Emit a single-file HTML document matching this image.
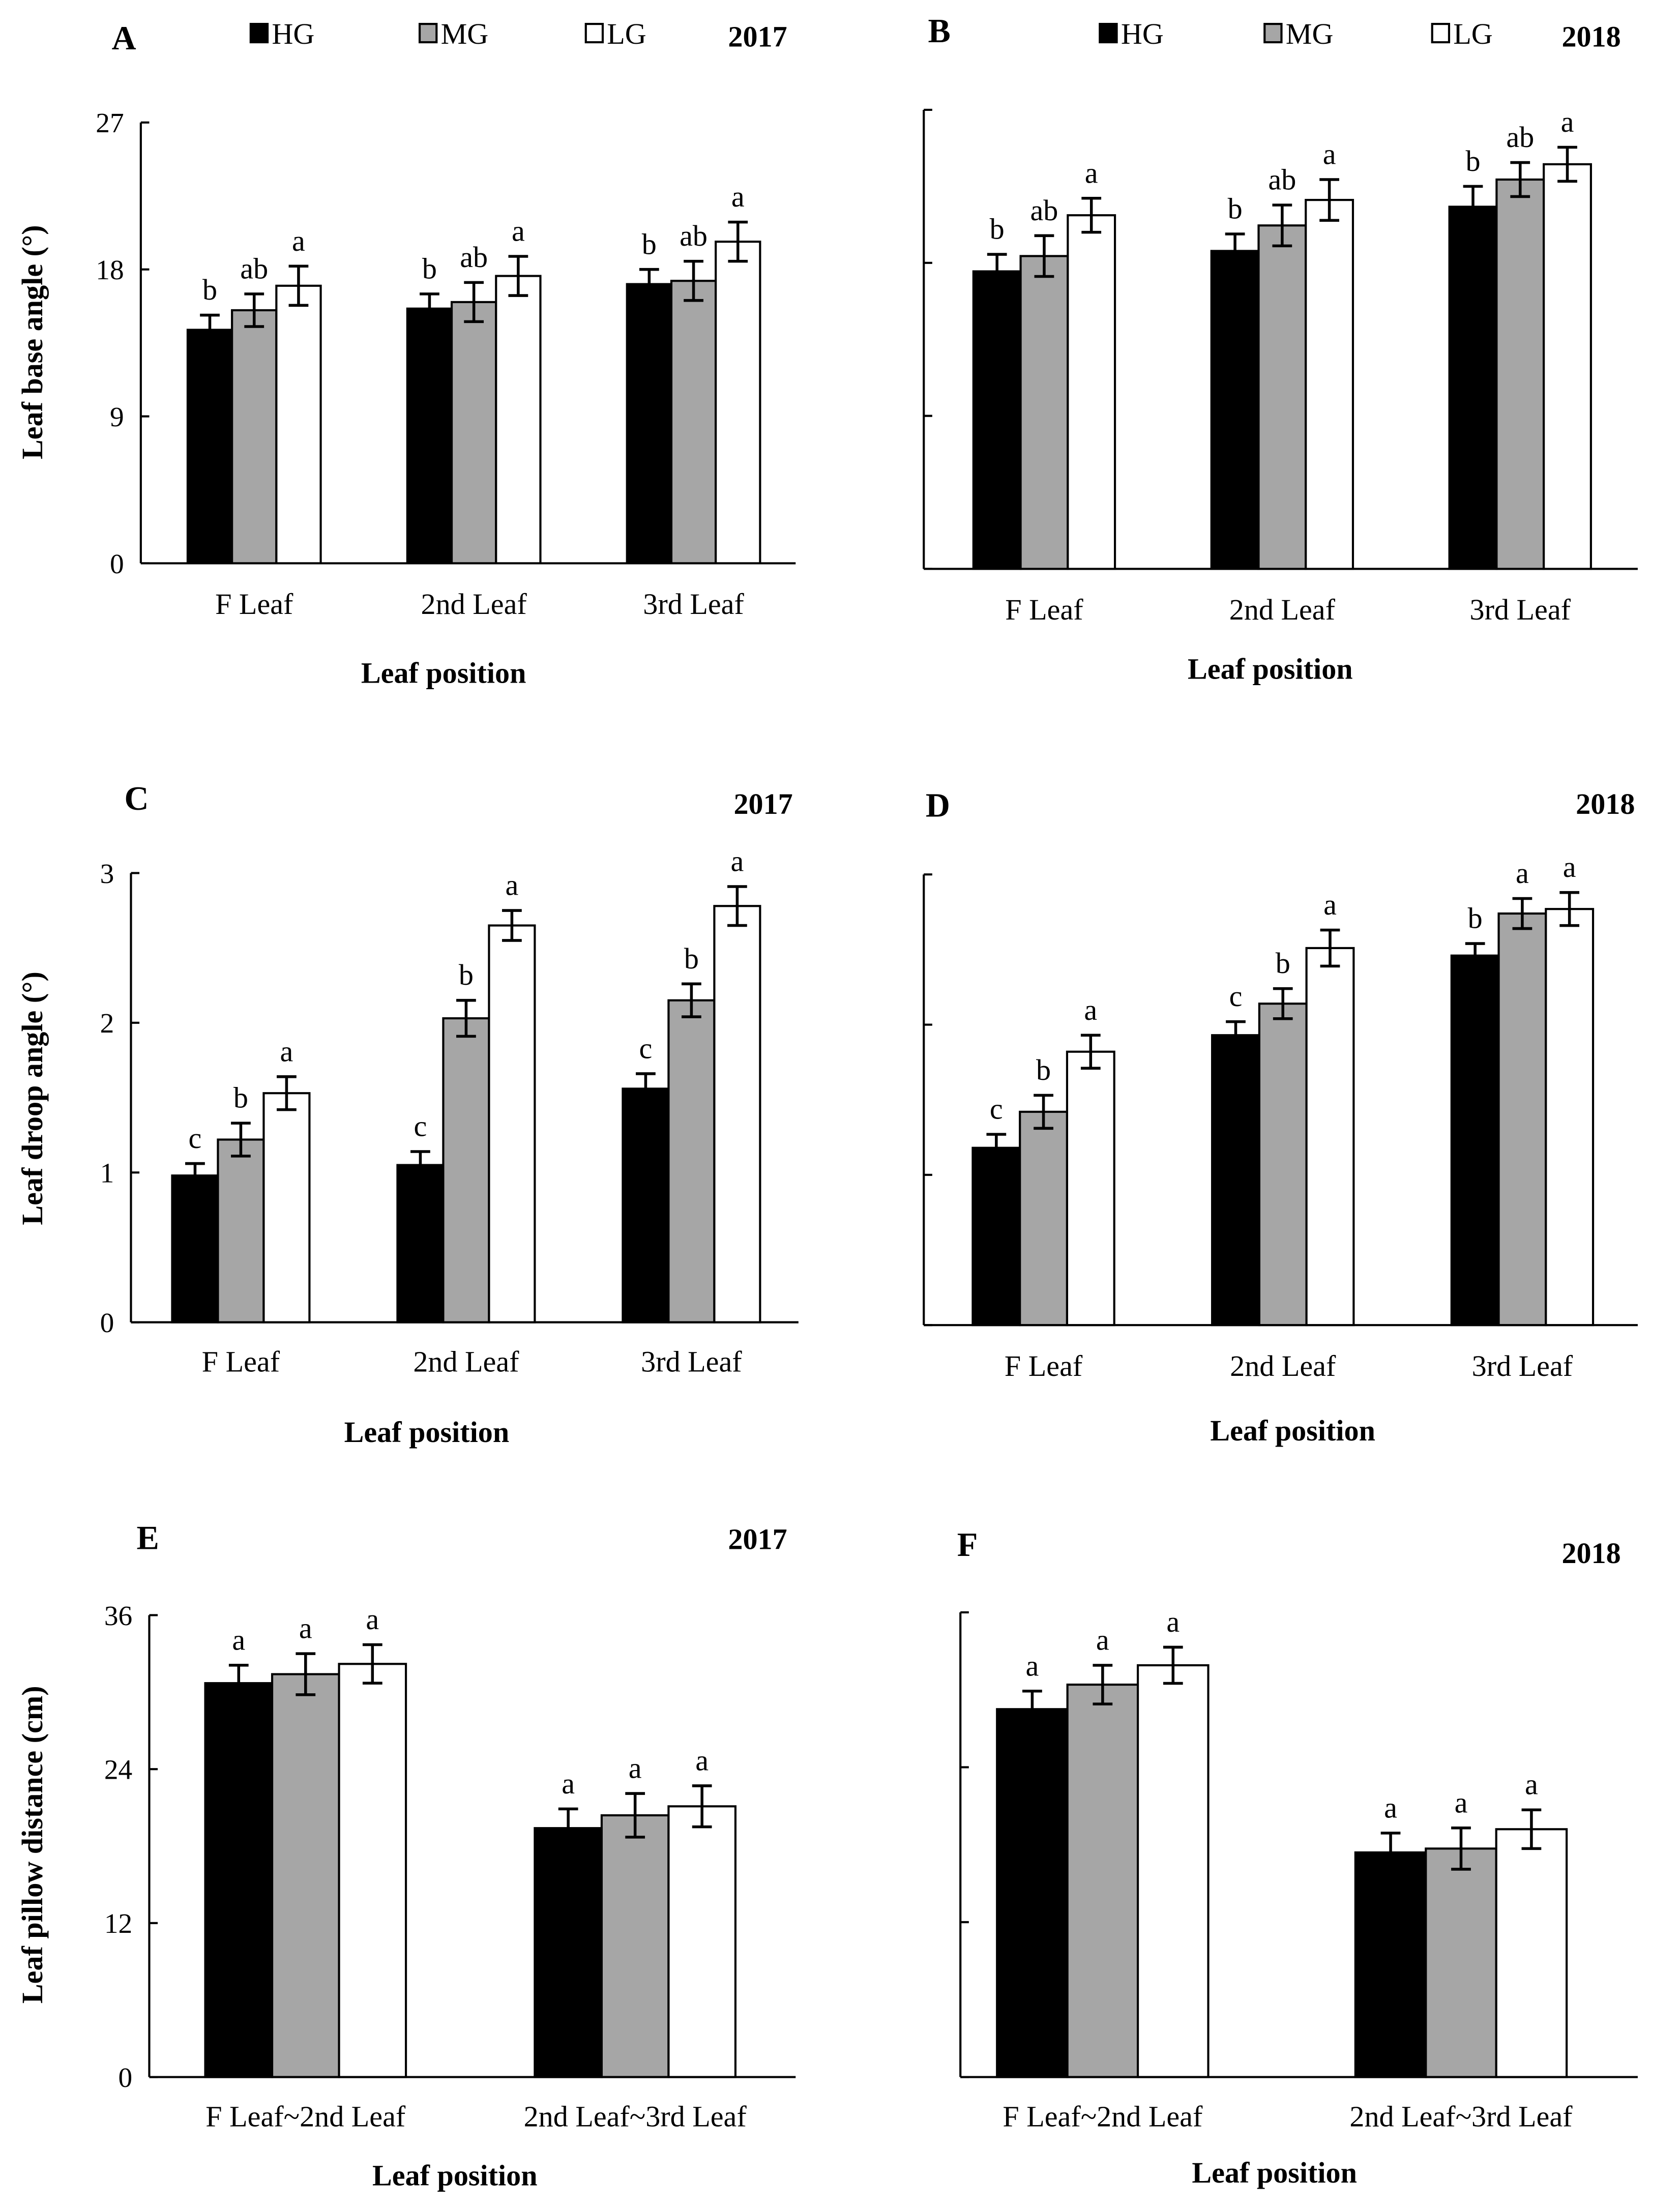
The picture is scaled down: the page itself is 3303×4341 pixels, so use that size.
<!DOCTYPE html>
<html><head><meta charset="utf-8">
<style>
html,body{margin:0;padding:0;background:#fff;}
svg{display:block;}
text{font-family:"Liberation Serif",serif;fill:#000;}
</style></head>
<body>
<svg id="chart" width="3303" height="4341" viewBox="0 0 1193 1568" preserveAspectRatio="none" xmlns="http://www.w3.org/2000/svg">
</svg>
<script>
// ---- data ----
const cats3 = ["F Leaf", "2nd Leaf", "3rd Leaf"];
const cats2 = ["F Leaf~2nd Leaf", "2nd Leaf~3rd Leaf"];
const seriesNames = ["HG", "MG", "LG"];
const aHG = [14.3, 15.6, 17.1], aMG = [15.5, 16.0, 17.3], aLG = [17.0, 17.6, 19.7];
const aErr = [[0.9,0.9,0.9],[1.0,1.2,1.2],[1.2,1.2,1.2]];
const aLet = [["b","b","b"],["ab","ab","ab"],["a","a","a"]];
const bHG = [17.5, 18.7, 21.3], bMG = [18.4, 20.2, 22.9], bLG = [20.8, 21.7, 23.8];
const bErr = [[1.0,1.0,1.2],[1.2,1.2,1.0],[1.0,1.2,1.0]];
const bLet = [["b","b","b"],["ab","ab","ab"],["a","a","a"]];
const cHG = [0.98, 1.05, 1.56], cMG = [1.22, 2.03, 2.15], cLG = [1.53, 2.65, 2.78];
const cErr = [[0.08,0.09,0.1],[0.11,0.12,0.11],[0.11,0.1,0.13]];
const cLet = [["c","c","c"],["b","b","b"],["a","a","a"]];
const dHG = [1.18, 1.93, 2.46], dMG = [1.42, 2.14, 2.74], dLG = [1.82, 2.51, 2.77];
const dErr = [[0.09,0.09,0.08],[0.11,0.1,0.1],[0.11,0.12,0.11]];
const dLet = [["c","c","b"],["b","b","a"],["a","a","a"]];
const eHG = [30.7, 19.4], eMG = [31.4, 20.4], eLG = [32.2, 21.1];
const eErr = [[1.4,1.5],[1.6,1.7],[1.5,1.6]];
const eLet = [["a","a"],["a","a"],["a","a"]];
const fHG = [28.5, 17.4], fMG = [30.4, 17.7], fLG = [31.9, 19.2];
const fErr = [[1.4,1.5],[1.5,1.6],[1.4,1.5]];
const fLet = [["a","a"],["a","a"],["a","a"]];
const ticksA = [0, 9, 18, 27];
const ticksC = [0, 1, 2, 3];
const ticksE = [0, 12, 24, 36];

const svg = document.getElementById('chart');
const NS = "http://www.w3.org/2000/svg";
function mk(tag, attrs, parent){ const e=document.createElementNS(NS,tag); for(const k in attrs) e.setAttribute(k,attrs[k]); (parent||svg).appendChild(e); return e; }
function txt(s, x, y, attrs, parent){ const e=mk('text', Object.assign({x:x,y:y},attrs), parent); e.textContent=s; return e; }

const fills = ["#000", "#a6a6a6", "#fff"];

function panel(o){
  const g = mk('g', {});
  
  
  const y = v => o.y0 - (v - o.min) / (o.max - o.min) * (o.y0 - o.yTop);
  const ya = mk('line',{x1:o.ax,y1:y(o.max),x2:o.ax,y2:o.y0,stroke:'#000','stroke-width':1.5},g);
   
  const xa = mk('line',{x1:o.ax,y1:o.y0,x2:o.axEnd,y2:o.y0,stroke:'#000','stroke-width':1.5},g);
   
  o.ticks.forEach(t=>{
    mk('line',{x1:o.ax,y1:y(t),x2:o.ax+6,y2:y(t),stroke:'#000','stroke-width':1.5},g);
    if(o.showTicks){ const tl=txt(String(t), o.ax-12, y(t)+7, {'font-size':20,'text-anchor':'end'}, g);
        }
  });
  const series = o.series;
  o.cats.forEach((c,i)=>{
    const gc = o.g0 + i*o.gs;
    const cl = txt(c, gc, o.catY, {'font-size':21,'text-anchor':'middle'}, g);
     
    series.forEach((s,j)=>{
      const x = gc + (j-1.5)*o.bw;
      const v = s[i], top=y(v);
      const r = mk('rect',{x:x,y:top,width:o.bw,height:o.y0-top,fill:fills[j],stroke:'#000','stroke-width':1.5},g);
      
      
      const e = o.err[j][i], cx = x+o.bw/2;
      const y1=y(v+e), y2=y(v-e);
      mk('line',{x1:cx,y1:y1,x2:cx,y2:y2,stroke:'#000','stroke-width':2},g);
      mk('line',{x1:cx-7,y1:y1,x2:cx+7,y2:y1,stroke:'#000','stroke-width':2},g);
      mk('line',{x1:cx-7,y1:y2,x2:cx+7,y2:y2,stroke:'#000','stroke-width':2},g);
      const lt = txt(o.lets[j][i], cx, y1-11, {'font-size':21,'text-anchor':'middle'}, g);
       
    });
  });
  const xt = txt('Leaf position', o.xtX, o.xtY, {'font-size':21,'font-weight':'bold','text-anchor':'middle'}, g);
   
  if(o.ytitle){
    const yt = txt(o.ytitle, 0, 0, {'font-size':21,'font-weight':'bold','text-anchor':'middle',transform:`translate(${o.ytX},${o.ytY}) rotate(-90)`}, g);
     
  }
  const pl = txt(o.id, o.lx, o.ly, {'font-size':24,'font-weight':'bold','text-anchor':'middle'}, g);
   
  const yr = txt(o.year, o.yx, o.yy, {'font-size':21,'font-weight':'bold','text-anchor':'middle'}, g);
   
  if(o.legend){
    o.legend.forEach((lx,j)=>{
      const sq = mk('rect',{x:lx,y:17,width:12,height:13,fill:fills[j],stroke:'#000','stroke-width':1.5},g);
       
      const lt = txt(seriesNames[j], lx+15, 31, {'font-size':21}, g);
       
    });
  }
}

panel({id:'A',year:'2017',cats:cats3,series:[aHG,aMG,aLG],err:aErr,lets:aLet,ticks:ticksA,min:0,max:27,
  ax:100,axEnd:565,y0:400,yTop:87,g0:180.5,gs:156,bw:31.5,catY:436,showTicks:true,
  xtX:315,xtY:485,ytitle:'Leaf base angle (°)',ytX:30,ytY:243,lx:88,ly:35,yx:538,yy:33,legend:[178,298,416]});
panel({id:'B',year:'2018',cats:cats3,series:[bHG,bMG,bLG],err:bErr,lets:bLet,ticks:ticksA,min:0,max:27,
  ax:656,axEnd:1163,y0:404,yTop:78,g0:741.5,gs:169,bw:33.5,catY:440,showTicks:false,
  xtX:902,xtY:482,lx:667,ly:30,yx:1130,yy:33,legend:[781,898,1017]});
panel({id:'C',year:'2017',cats:cats3,series:[cHG,cMG,cLG],err:cErr,lets:cLet,ticks:ticksC,min:0,max:3,
  ax:93,axEnd:567,y0:939,yTop:620,g0:171,gs:160,bw:32.5,catY:974,showTicks:true,
  xtX:303,xtY:1024,ytitle:'Leaf droop angle (°)',ytX:30,ytY:780,lx:97,ly:575,yx:542,yy:578});
panel({id:'D',year:'2018',cats:cats3,series:[dHG,dMG,dLG],err:dErr,lets:dLet,ticks:ticksC,min:0,max:3,
  ax:656,axEnd:1163,y0:941,yTop:621,g0:741,gs:170,bw:33.5,catY:977,showTicks:false,
  xtX:918,xtY:1023,lx:666,ly:580,yx:1140,yy:578});
panel({id:'E',year:'2017',cats:cats2,series:[eHG,eMG,eLG],err:eErr,lets:eLet,ticks:ticksE,min:0,max:36,
  ax:106,axEnd:565,y0:1475,yTop:1147,g0:217,gs:234,bw:47.5,catY:1510,showTicks:true,
  xtX:323,xtY:1552,ytitle:'Leaf pillow distance (cm)',ytX:30,ytY:1310,lx:105,ly:1100,yx:538,yy:1100});
panel({id:'F',year:'2018',cats:cats2,series:[fHG,fMG,fLG],err:fErr,lets:fLet,ticks:ticksE,min:0,max:36,
  ax:682,axEnd:1163,y0:1475,yTop:1145,g0:783,gs:254.5,bw:50,catY:1510,showTicks:false,
  xtX:905,xtY:1550,lx:687,ly:1105,yx:1130,yy:1110});
</script>
</body></html>
